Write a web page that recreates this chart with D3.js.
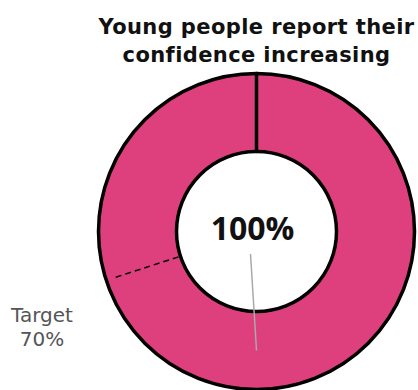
<!DOCTYPE html>
<html>
<head>
<meta charset="utf-8">
<script src="https://cdn.jsdelivr.net/npm/d3@7"></script>
<style>
  html, body { margin: 0; padding: 0; background: #fff; }
  svg { display: block; }
</style>
</head>
<body>
<svg id="chart" width="418" height="390"></svg>
<script>
// Progress donut: share of young people reporting increased confidence
const titleLines = ["Young people report their", "confidence increasing"];
const value = 1.00;        // achieved share
const target = 0.70;       // target share
const targetLabel = ["Target", "70%"];

const width = 418, height = 390;
const cx = 256.5, cy = 231.5;
const outerR = 158, innerR = 80;
const pink = "#de3f7d";

const svg = d3.select("#chart");

// Title
svg.append("text")
  .attr("text-anchor", "middle")
  .attr("font-family", "DejaVu Sans, sans-serif")
  .attr("font-weight", "bold")
  .attr("font-size", 21)
  .attr("letter-spacing", 0.4)
  .attr("fill", "#111")
  .selectAll("tspan")
  .data(titleLines)
  .join("tspan")
  .attr("x", cx)
  .attr("y", (d, i) => 34 + i * 28)
  .text(d => d);

const angle = d3.scaleLinear().domain([0, 1]).range([0, 2 * Math.PI]);
const arc = d3.arc().innerRadius(innerR).outerRadius(outerR);

const g = svg.append("g").attr("transform", `translate(${cx},${cy})`);

// Achieved and remaining segments
const segments = [
  { key: "achieved", start: 0, end: value, fill: pink },
  { key: "remaining", start: value, end: 1, fill: "#fff" }
];

g.selectAll("path.seg")
  .data(segments)
  .join("path")
  .attr("class", "seg")
  .attr("d", d => arc({ startAngle: angle(d.start), endAngle: angle(d.end) }))
  .attr("fill", d => d.fill)
  .attr("stroke", "#000")
  .attr("stroke-width", 3.5)
  .attr("stroke-linejoin", "round");

// Target marker
const ta = angle(target);
const tx = Math.sin(ta), ty = -Math.cos(ta);
g.append("line")
  .attr("x1", tx * (innerR + 2))
  .attr("y1", ty * (innerR + 2))
  .attr("x2", tx * (outerR - 6))
  .attr("y2", ty * (outerR - 6))
  .attr("stroke", "#000")
  .attr("stroke-width", 1.5)
  .attr("stroke-dasharray", "6,4");

// Value label with leader to the arc centroid
const centroid = arc.centroid({ startAngle: angle(0), endAngle: angle(value) });
const labelX = -4, labelY = 8.5;
g.append("line")
  .attr("x1", labelX - 2)
  .attr("y1", labelY + 14)
  .attr("x2", centroid[0])
  .attr("y2", centroid[1])
  .attr("stroke", "#aaa")
  .attr("stroke-width", 1.5);

g.append("text")
  .attr("x", labelX)
  .attr("y", labelY)
  .attr("text-anchor", "middle")
  .attr("font-family", "Open Sans, sans-serif")
  .attr("font-weight", "bold")
  .attr("font-size", 32)
  .attr("fill", "#111")
  .text(d3.format(".0%")(value));

// Target label
svg.append("text")
  .attr("text-anchor", "middle")
  .attr("font-family", "DejaVu Sans, sans-serif")
  .attr("font-size", 20)
  .attr("fill", "#555")
  .selectAll("tspan")
  .data(targetLabel)
  .join("tspan")
  .attr("x", 42)
  .attr("y", (d, i) => 322 + i * 24)
  .text(d => d);
</script>
</body>
</html>
